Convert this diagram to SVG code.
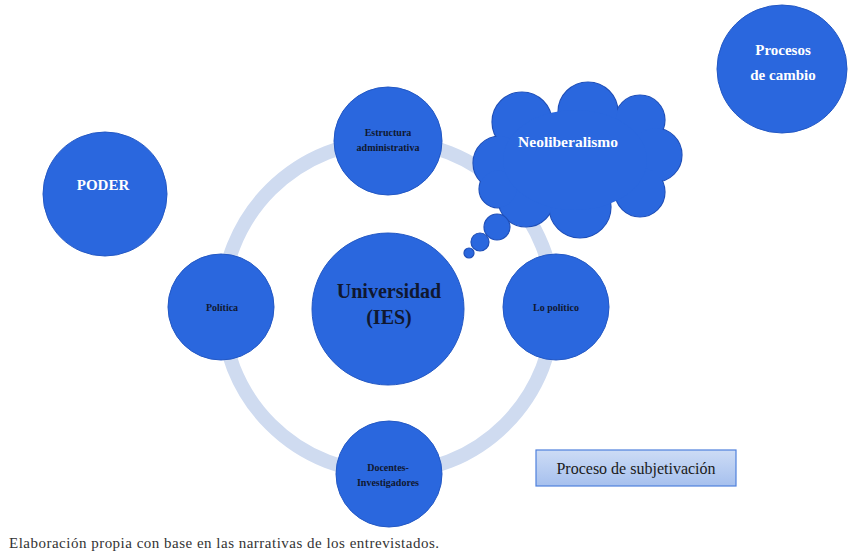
<svg xmlns="http://www.w3.org/2000/svg" width="848" height="556" viewBox="0 0 848 556">
<defs>
<linearGradient id="boxg" x1="0" y1="0" x2="0" y2="1">
<stop offset="0" stop-color="#cddcf5"/>
<stop offset="1" stop-color="#a6c0ee"/>
</linearGradient>
</defs>
<style>
.node{fill:#2a67de;stroke:#2358c4;stroke-width:1}
.lobe{fill:#2a67de;stroke:#1f4fb8;stroke-width:1.2}
.lobefill{fill:#2a67de;stroke:none}
.ring{fill:none;stroke:#cfdbf0;stroke-width:14}
.lbl{font-family:"Liberation Serif","Times New Roman",serif;font-weight:bold;text-anchor:middle}
.dark{fill:#101830}
.white{fill:#ffffff}
.s10{font-size:10px}
.s15{font-size:15px}
</style>
<rect width="848" height="556" fill="#ffffff"/>
<g id="connectors">
<circle class="ring" cx="388" cy="307" r="166"/>
</g>
<g id="node-universidad">
<circle class="node" cx="388" cy="309" r="76"/>
<text class="lbl dark" x="389" y="298" font-size="20">Universidad</text>
<text class="lbl dark" x="389" y="324" font-size="20">(IES)</text>
</g>
<g id="node-estructura">
<circle class="node" cx="388" cy="141" r="54"/>
<text class="lbl dark s10" x="388" y="136">Estructura</text>
<text class="lbl dark s10" x="388" y="151">administrativa</text>
</g>
<g id="node-politica">
<circle class="node" cx="221" cy="307" r="53"/>
<text class="lbl dark s10" x="222" y="311">Política</text>
</g>
<g id="node-lopolitico">
<circle class="node" cx="556" cy="307" r="53"/>
<text class="lbl dark s10" x="556" y="311">Lo político</text>
</g>
<g id="node-docentes">
<circle class="node" cx="389" cy="474" r="53"/>
<text class="lbl dark s10" x="388" y="471">Docentes-</text>
<text class="lbl dark s10" x="388" y="486">Investigadores</text>
</g>
<g id="node-poder">
<circle class="node" cx="105" cy="194" r="62"/>
<text class="lbl white s15" x="103" y="190">PODER</text>
</g>
<g id="node-procesos">
<ellipse class="node" cx="782" cy="69" rx="65" ry="64"/>
<text class="lbl white s15" x="783" y="55">Procesos</text>
<text class="lbl white s15" x="783" y="80">de cambio</text>
</g>
<g id="node-neoliberalismo">
<g>
<circle class="lobe" cx="522" cy="122" r="30"/>
<circle class="lobe" cx="588" cy="112" r="30"/>
<circle class="lobe" cx="640" cy="120" r="25"/>
<circle class="lobe" cx="655" cy="155" r="27"/>
<circle class="lobe" cx="640" cy="192" r="25"/>
<circle class="lobe" cx="580" cy="207" r="31"/>
<circle class="lobe" cx="526" cy="199" r="28"/>
<circle class="lobe" cx="500" cy="163" r="27"/>
<circle class="lobe" cx="498" cy="189" r="19"/>
</g>
<g>
<circle class="lobefill" cx="522" cy="122" r="29.4"/>
<circle class="lobefill" cx="588" cy="112" r="29.4"/>
<circle class="lobefill" cx="640" cy="120" r="24.4"/>
<circle class="lobefill" cx="655" cy="155" r="26.4"/>
<circle class="lobefill" cx="640" cy="192" r="24.4"/>
<circle class="lobefill" cx="580" cy="207" r="30.4"/>
<circle class="lobefill" cx="526" cy="199" r="27.4"/>
<circle class="lobefill" cx="500" cy="163" r="26.4"/>
<circle class="lobefill" cx="498" cy="189" r="18.4"/>
<ellipse class="lobefill" cx="575" cy="160" rx="72" ry="50"/>
</g>
<circle class="lobe" cx="497" cy="227" r="13"/>
<circle class="lobe" cx="480" cy="242" r="9"/>
<circle class="lobe" cx="469" cy="253" r="5"/>
<text class="lbl white" x="568" y="147" font-size="15.5">Neoliberalismo</text>
</g>
<g id="node-subjetivacion">
<rect x="536" y="450" width="200" height="36" fill="url(#boxg)" stroke="#4f80dc" stroke-width="1.2"/>
<text x="636" y="474" font-family="&quot;Liberation Serif&quot;,&quot;Times New Roman&quot;,serif" font-size="16" fill="#1a1a1a" text-anchor="middle">Proceso de subjetivación</text>
</g>
<text id="caption" x="9" y="548" font-family="&quot;Liberation Serif&quot;,&quot;Times New Roman&quot;,serif" font-size="15" fill="#333333" textLength="430" lengthAdjust="spacing">Elaboración propia con base en las narrativas de los entrevistados.</text>
</svg>
